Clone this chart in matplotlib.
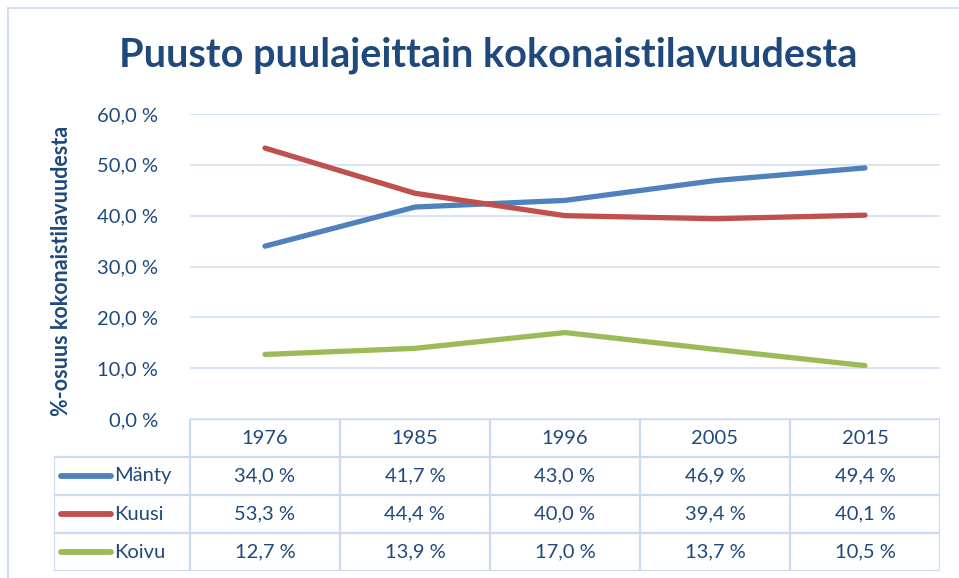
import numpy as np
import matplotlib
matplotlib.use('Agg')
import matplotlib.pyplot as plt
from matplotlib.lines import Line2D

# ── Data ─────────────────────────────────────────────────────────────────────
YEARS   = ['1976', '1985', '1996', '2005', '2015']
SERIES  = ['Mänty', 'Kuusi', 'Koivu']
manty   = [34.0, 41.7, 43.0, 46.9, 49.4]
kuusi   = [53.3, 44.4, 40.0, 39.4, 40.1]
koivu   = [12.7, 13.9, 17.0, 13.7, 10.5]
VALUES  = [manty, kuusi, koivu]
Y_TICKS = [0, 10, 20, 30, 40, 50, 60]

# ── Style ────────────────────────────────────────────────────────────────────
C_TEXT  = '#1F497D'
C_GRID  = '#D6E3F3'
C_TABLE = '#CADAF0'
COLORS  = ['#4F81BD', '#C0504D', '#9BBB59']
FONT    = ['Lato', 'DejaVu Sans']
FS      = 14.5
plt.rcParams['font.family'] = FONT

W, H = 959, 578
fig = plt.figure(figsize=(W / 100, H / 100), dpi=100)


def px(x0, y0, x1, y1):
    """pixel box (top-left origin) -> figure fraction rect"""
    return [x0 / W, 1 - y1 / H, (x1 - x0) / W, (y1 - y0) / H]


# outer chart border (left + top only visible)
fig.add_artist(Line2D([8 / W, 8 / W], [0, 1 - 8 / H], color=C_TABLE, lw=1.2))
fig.add_artist(Line2D([8 / W, 1], [1 - 8 / H, 1 - 8 / H], color=C_TABLE, lw=1.2))

# ── Main plot ────────────────────────────────────────────────────────────────
ax = fig.add_axes(px(190, 114, 940, 419))
x = np.arange(len(YEARS))
for vals, col in zip(VALUES, COLORS):
    ax.plot(x, vals, color=col, lw=3.8, solid_capstyle='round',
            solid_joinstyle='round', zorder=3)

ax.set_xlim(-0.5, len(YEARS) - 0.5)
ax.set_ylim(0, 60)
ax.set_yticks(Y_TICKS)
ax.set_yticklabels([f'{v:.1f} %'.replace('.', ',') for v in Y_TICKS])
ax.set_xticks([])
ax.tick_params(axis='y', length=0, pad=23, labelsize=FS, labelcolor=C_TEXT)
for s in ax.spines.values():
    s.set_visible(False)
ax.grid(axis='y', color=C_GRID, lw=1.3)
ax.set_axisbelow(True)

fig.text(61 / W, 1 - 271 / H, '%-osuus kokonaistilavuudesta', rotation=90,
         ha='center', va='center', fontsize=15.5, fontweight='bold', color=C_TEXT)

fig.text(488 / W, 1 - 55 / H, 'Puusto puulajeittain kokonaistilavuudesta',
         ha='center', va='center', fontsize=28.5, fontweight='bold', color=C_TEXT)

# ── Data table ───────────────────────────────────────────────────────────────
tab = fig.add_axes(px(54, 419, 940, 571))
left = -0.5 - (190 - 54) / 150
right = len(YEARS) - 0.5
tab.set_xlim(left, right)
tab.set_ylim(0, 4)
tab.axis('off')

lk = dict(color=C_TABLE, lw=1.6, solid_capstyle='butt')
# horizontal lines
tab.plot([-0.5, right], [4, 4], **lk)
for yy in [0, 1, 2, 3]:
    tab.plot([left, right], [yy, yy], **lk)
# vertical lines
tab.plot([left, left], [0, 3], **lk)
for xx in np.arange(-0.5, len(YEARS)):
    tab.plot([xx, xx], [0, 4], **lk)

for i, yr in enumerate(YEARS):
    tab.text(i, 3.5, yr, ha='center', va='center', fontsize=FS, color=C_TEXT)

for r, (name, vals, col) in enumerate(zip(SERIES, VALUES, COLORS)):
    yc = 2.5 - r
    tab.plot([left + 0.045, left + 0.38], [yc, yc], color=col, lw=4.2,
             solid_capstyle='round')
    tab.text(left + 0.40, yc, name, ha='left', va='center', fontsize=FS,
             color=C_TEXT)
    for i, v in enumerate(vals):
        tab.text(i, yc, f'{v:.1f} %'.replace('.', ','), ha='center',
                 va='center', fontsize=FS, color=C_TEXT)

fig.savefig('out.png', dpi=100, facecolor='white')
